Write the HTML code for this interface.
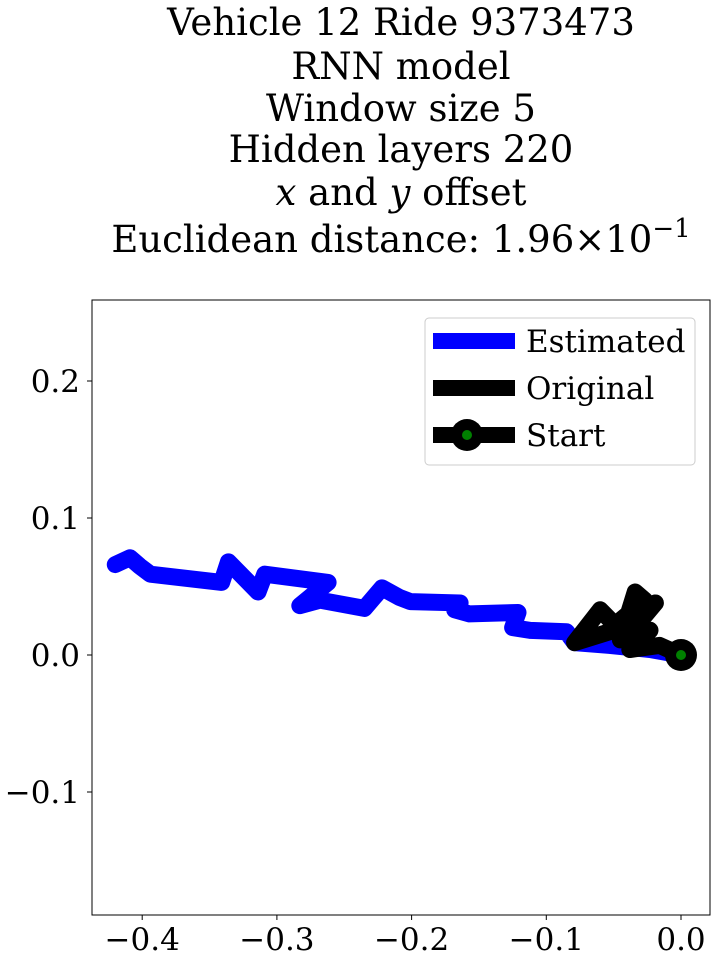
<!DOCTYPE html>
<html><head><meta charset="utf-8"><style>
body{margin:0;background:#fff;width:719px;height:963px;overflow:hidden}
svg text{font-family:"DejaVu Serif","Liberation Serif",serif;fill:#000}
</style></head><body>
<svg width="719" height="963">
<g id="title" font-size="37" text-anchor="middle">
<text x="401" y="35">Vehicle 12 Ride 9373473</text>
<text x="401" y="79">RNN model</text>
<text x="401" y="121">Window size 5</text>
<text x="401" y="162">Hidden layers 220</text>
<text x="401" y="205"><tspan font-style="italic">x</tspan> and <tspan font-style="italic">y</tspan> offset</text>
<text x="401" y="252">Euclidean distance: 1.96×10<tspan dy="-15" font-size="26">−1</tspan></text>
</g>
<defs><clipPath id="clip"><rect x="92" y="300" width="618" height="615"/></clipPath></defs>
<g id="series" clip-path="url(#clip)"></g>
<rect x="92" y="300" width="618" height="615" fill="none" stroke="#000" stroke-width="1"/>
<g id="axes" font-size="31"></g>
<g>
<rect x="425" y="318" width="270" height="147" rx="4" fill="#fff" fill-opacity="0.8" stroke="#ccc"/>
<line x1="433" y1="341" x2="515" y2="341" stroke="#0000ff" stroke-width="16"/>
<text x="526" y="352" font-size="31">Estimated</text>
<line x1="433" y1="388" x2="515" y2="388" stroke="#000" stroke-width="16"/>
<text x="526" y="399" font-size="31">Original</text>
<line x1="433" y1="435" x2="515" y2="435" stroke="#000" stroke-width="16"/>
<circle cx="467" cy="435" r="16" fill="#000"/>
<circle cx="467" cy="435" r="5" fill="green"/>
<text x="526" y="446" font-size="31">Start</text>
</g>
</svg>
<script>
const estX=[0,-0.023,-0.053,-0.079,-0.085,-0.112,-0.125,-0.121,-0.157,-0.168,-0.164,-0.201,-0.209,-0.222,-0.235,-0.268,-0.283,-0.262,-0.309,-0.314,-0.336,-0.341,-0.394,-0.402,-0.409,-0.420];
const estY=[0,0.004,0.007,0.009,0.017,0.018,0.020,0.031,0.030,0.033,0.038,0.039,0.042,0.049,0.034,0.040,0.036,0.053,0.059,0.046,0.068,0.053,0.059,0.065,0.071,0.066];
const origX=[0,-0.016,-0.038,-0.023,-0.045,-0.034,-0.027,-0.049,-0.060,-0.079,-0.053,-0.019,-0.042];
const origY=[0,0.007,0.004,0.018,0.011,0.046,0.040,0.022,0.033,0.009,0.017,0.038,0.011];
const xTicks=[-0.4,-0.3,-0.2,-0.1,0.0];
const yTicks=[-0.1,0.0,0.1,0.2];
const xTickLabels=["−0.4","−0.3","−0.2","−0.1","0.0"];
const yTickLabels=["−0.1","0.0","0.1","0.2"];
const sx=v=>681+v*1347, sy=v=>655-v*1370;
const NS="http://www.w3.org/2000/svg";
const ser=document.getElementById('series'), ax=document.getElementById('axes');
function path(xs,ys,color,name){
  const p=document.createElementNS(NS,'polyline');
  p.setAttribute('points',xs.map((x,i)=>sx(x)+','+sy(ys[i])).join(' '));
  p.setAttribute('fill','none');p.setAttribute('stroke',color);p.setAttribute('stroke-width','17');
  p.setAttribute('stroke-linejoin','round');p.setAttribute('stroke-linecap','round');
  
  
  ser.appendChild(p);
}
path(estX,estY,'#0000ff','estimated-line');
path(origX,origY,'#000','original-line');
const c1=document.createElementNS(NS,'circle');
c1.setAttribute('cx',sx(origX[0]));c1.setAttribute('cy',sy(origY[0]));c1.setAttribute('r','16');c1.setAttribute('fill','#000');


ser.appendChild(c1);
const c2=document.createElementNS(NS,'circle');
c2.setAttribute('cx',sx(origX[0]));c2.setAttribute('cy',sy(origY[0]));c2.setAttribute('r','5');c2.setAttribute('fill','green');


ser.appendChild(c2);
xTicks.forEach((v,i)=>{
  const l=document.createElementNS(NS,'line');
  l.setAttribute('x1',sx(v));l.setAttribute('x2',sx(v));l.setAttribute('y1',915);l.setAttribute('y2',920);l.setAttribute('stroke','#000');
  
  
  ax.appendChild(l);
  const t=document.createElementNS(NS,'text');
  t.setAttribute('x',sx(v));t.setAttribute('y',950);t.setAttribute('text-anchor','middle');t.textContent=xTickLabels[i];
  
  
  ax.appendChild(t);
});
yTicks.forEach((v,i)=>{
  const l=document.createElementNS(NS,'line');
  l.setAttribute('x1',87);l.setAttribute('x2',92);l.setAttribute('y1',sy(v));l.setAttribute('y2',sy(v));l.setAttribute('stroke','#000');
  
  
  ax.appendChild(l);
  const t=document.createElementNS(NS,'text');
  t.setAttribute('x',80);t.setAttribute('y',sy(v)+11);t.setAttribute('text-anchor','end');t.textContent=yTickLabels[i];
  
  
  ax.appendChild(t);
});
</script>
</body></html>
